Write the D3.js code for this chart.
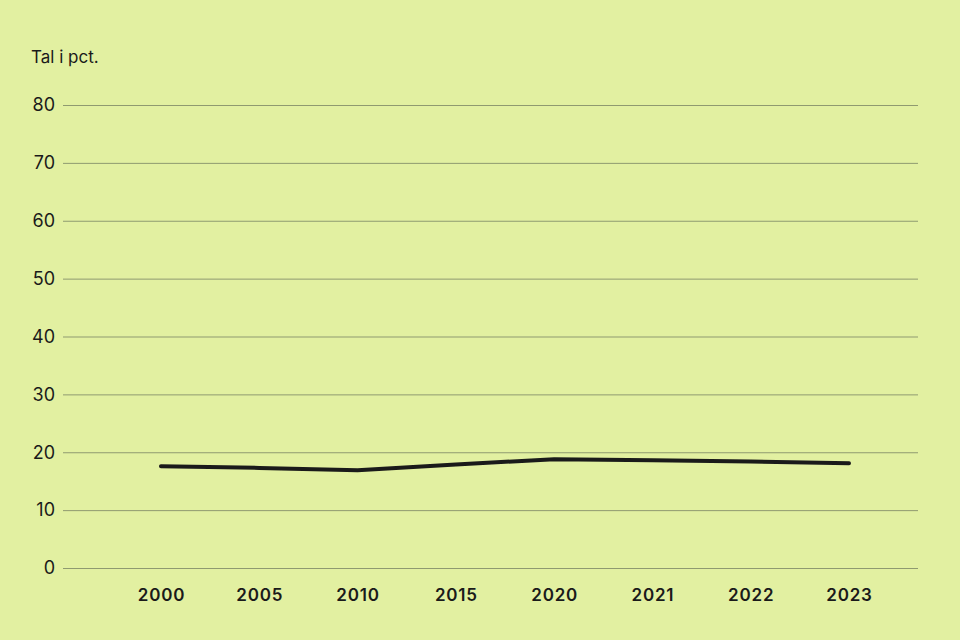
<!DOCTYPE html>
<html><head><meta charset="utf-8">
<script src="https://cdn.jsdelivr.net/npm/d3@7"></script>
<style>
html,body{margin:0;padding:0;background:#e2f0a1;}
svg{display:block;}
</style></head>
<body>
<svg id="chart" width="960" height="640"></svg>
<script>
const years = ["2000","2005","2010","2015","2020","2021","2022","2023"];
const values = [17.6, 17.3, 16.9, 17.9, 18.8, 18.6, 18.4, 18.1];
const yTicks = [0,10,20,30,40,50,60,70,80];
const yLabel = "Tal i pct.";

const svg = d3.select("#chart");
svg.append("rect").attr("width",960).attr("height",640).attr("fill","#e2f0a1");

const x = d3.scalePoint().domain(years).range([161, 849]);
const y = d3.scaleLinear().domain([0,80]).range([568,105]);

const yAxis = svg.append("g").attr("transform","translate(63,0)")
  .call(d3.axisLeft(y).tickValues(yTicks).tickSize(-855).tickPadding(9).tickFormat(d3.format("d")));
yAxis.select(".domain").remove();
yAxis.selectAll(".tick line").attr("stroke","#8f9a70").attr("stroke-width",1);
yAxis.selectAll(".tick text").attr("fill","#1a1a1a").style("font-family","Inter, 'Noto Sans', sans-serif").style("font-size","18px").attr("x",-8);

const xAxis = svg.append("g").attr("transform","translate(0,568)")
  .call(d3.axisBottom(x).tickSize(0).tickPadding(21));
xAxis.select(".domain").remove();
xAxis.selectAll(".tick text").attr("fill","#1a1a1a").style("font-family","Inter, 'Noto Sans', sans-serif").style("font-size","17px").style("font-weight","600").style("letter-spacing","0.8px");

svg.append("text").attr("x",31).attr("y",63).text(yLabel)
  .attr("fill","#1a1a1a").style("font-family","Inter, 'Noto Sans', sans-serif").style("font-size","17px");

const line = d3.line().x((d,i)=>x(years[i])).y(d=>y(d));
svg.append("path").datum(values).attr("d",line).attr("fill","none")
  .attr("stroke","#1a1a1a").attr("stroke-width",4).attr("stroke-linecap","round").attr("stroke-linejoin","round");
</script>
</body></html>
